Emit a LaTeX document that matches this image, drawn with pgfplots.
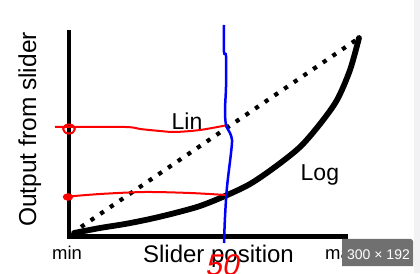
\documentclass[border=0pt]{standalone}
\usepackage{pgfplots}
\pgfplotsset{compat=1.18}
\usepackage{fontspec}
\setmainfont{Liberation Sans}
\definecolor{badge}{RGB}{112,112,112}
\definecolor{strip}{RGB}{242,242,244}
\begin{document}
\begin{tikzpicture}
\begin{axis}[name=ax, width=420pt, height=273pt, scale only axis,
  xmin=0, xmax=420, ymin=0, ymax=273, axis lines=none, ticks=none, clip=true]
% background strip
\fill[white] (axis cs:0,0) rectangle (axis cs:414,273);
\fill[strip] (axis cs:414,0) rectangle (axis cs:420,273);
% axes
\addplot[black, line width=4.8pt, line join=miter] coordinates {(69,243) (69,36.5) (348,36.5)};
% Lin (dotted)
\addplot[black, line width=4.2pt, dash pattern=on 4.2pt off 7.5pt] coordinates {(81,46) (359,235)};
% Log
\addplot[black, line width=5.8pt, smooth, line cap=round] coordinates {
 (74,40) (100,45) (125,49) (150,54) (175,60) (200,67) (225,77) (250,89)
 (275,106) (300,126) (320,149) (337,173) (350,203) (359,235)};
% red lines
\addplot[red, line width=2pt, smooth] coordinates {(55,146) (125,146) (140,144) (160,142) (175,141) (200,143) (228,148)};
\addplot[red, line width=2pt, smooth] coordinates {(63,76) (100,79) (145,81) (190,80) (226,78)};
\addplot[red, line width=2pt, mark=o, only marks, mark size=4.5pt, mark options={xscale=1.3}] coordinates {(69,144)};
\addplot[red, mark=*, only marks, mark size=3.5pt, mark options={xscale=1.4}] coordinates {(68,76)};
% blue line
\addplot[blue, line width=2.5pt, smooth] coordinates {
 (224,248) (224,221) (226,217) (226,186) (225,163) (226,148) (230,140) (232,133)
 (231,120) (227,86) (225,56) (224,30)};
% texts
\node[rotate=90, anchor=base, font=\fontsize{24.5}{28}\selectfont] at (axis cs:36,143.5) {Output from slider};
\node[anchor=base, font=\fontsize{24}{28}\selectfont] at (axis cs:218.5,11) {Slider position};
\node[anchor=base, font=\fontsize{18.5}{22}\selectfont] at (axis cs:67,14) {min};
\node[anchor=base west, inner sep=0pt, font=\fontsize{18.5}{22}\selectfont] at (axis cs:325,14) {max};
\node[anchor=base west, inner sep=0pt, font=\fontsize{23}{27}\selectfont] at (axis cs:171.5,143) {Lin};
\node[anchor=base west, inner sep=0pt, font=\fontsize{23}{27}\selectfont] at (axis cs:300.5,92) {Log};
\node[anchor=base west, inner sep=0pt, red, xslant=0.2, font=\fontsize{30}{34}\selectfont] at (axis cs:205,-2) {50};
% badge
\fill[badge] (axis cs:342,7) -- (axis cs:413,7) -- (axis cs:413,32) -- (axis cs:411,34) -- (axis cs:342,34) -- cycle;
\node[anchor=base, white, inner sep=0pt, font=\fontsize{14}{16}\selectfont] at (axis cs:378.5,14) {300 × 192};
\end{axis}
\pgfresetboundingbox
\useasboundingbox (ax.south west) rectangle (ax.north east);
\end{tikzpicture}
\end{document}
